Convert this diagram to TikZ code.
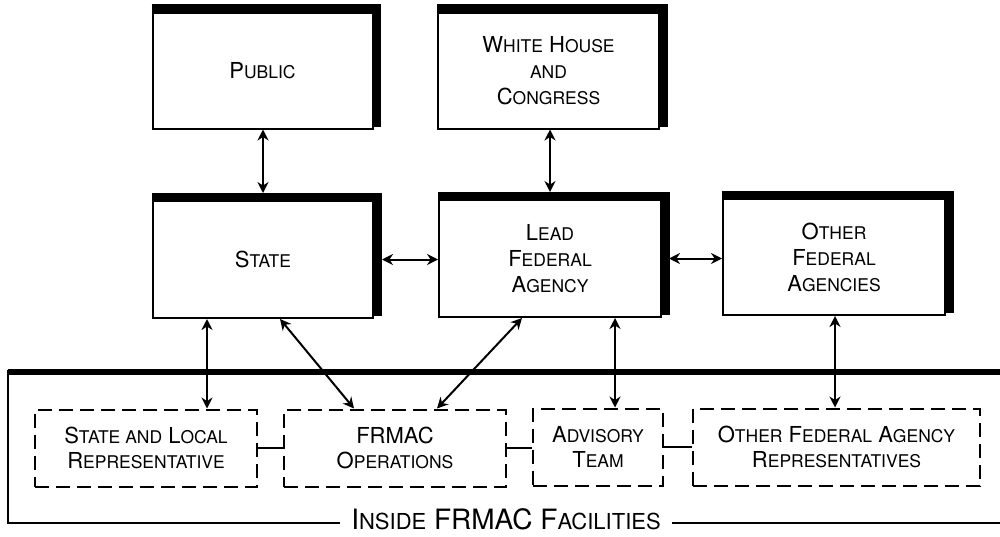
\documentclass[tikz,border=0pt]{standalone}
\usepackage{fontspec}
\setmainfont{TeX Gyre Heros}
\usepackage{xcolor}
\usetikzlibrary{arrows.meta}

\newcommand{\sm}[2][17.5]{{\fontsize{#1}{26}\selectfont #2}}

\begin{document}
\begin{tikzpicture}[x=1pt,y=-1pt,
        box/.style={draw,line width=2pt,fill=white,minimum width=220pt,minimum height=116pt,align=center,inner sep=0pt,font=\fontsize{22}{26}\selectfont},
        repbox/.style={draw,line width=2pt,dash pattern=on 14pt off 7pt,minimum height=77pt,align=center,inner sep=0pt,font=\fontsize{22}{25}\selectfont},
        thickedge/.style={line width=7.5pt},
        conn/.style={line width=2pt,{Stealth[length=11pt,width=11pt]}-{Stealth[length=11pt,width=11pt]}},
        joinline/.style={line width=2pt}]
        \useasboundingbox (0,0) rectangle (1000,536);
        % top row
        \node[box](pub) at (262.5,70.5) {P\sm{UBLIC}};
        \node[box,minimum width=221pt](whc) at (548.5,70.5) {W\sm{HITE} H\sm{OUSE}\\\sm{AND}\\C\sm{ONGRESS}};
        % middle row
        \node[box,minimum height=117pt](state) at (263,259.5) {S\sm{TATE}};
        \node[box,minimum width=222pt,minimum height=117pt](lfa) at (550,258.5) {L\sm{EAD}\\F\sm{EDERAL}\\A\sm{GENCY}};
        \node[box,minimum width=222pt](ofa) at (834,257) {O\sm{THER}\\F\sm{EDERAL}\\A\sm{GENCIES}};
        \foreach \b in {pub,whc,state,lfa,ofa}
            \draw[thickedge] ([yshift=3.75pt]\b.north west) -- ([xshift=3.75pt,yshift=3.75pt]\b.north east) -- ([xshift=3.75pt,yshift=3pt]\b.south east);
        % facilities frame
        \draw[line width=6pt] (8,372) -- (1000,372);
        \node[font=\fontsize{28}{30}\selectfont,inner xsep=11pt,inner ysep=0pt](inside) at (506,519) {I\sm[22]{NSIDE} FRMAC F\sm[22]{ACILITIES}};
        \draw[line width=2pt] (8,370) -- (8,523) -- (inside.west |- 8,523);
        \draw[line width=2pt] (inside.east |- 8,523) -- (1000,523);
        % representatives
        \node[repbox,minimum width=222pt](slr) at (146,448) {S\sm{TATE AND} L\sm{OCAL}\\R\sm{EPRESENTATIVE}};
        \node[repbox,minimum width=222pt](fops) at (395,448) {FRMAC\\O\sm{PERATIONS}};
        \node[repbox,minimum width=130pt](adv) at (598,447) {A\sm{DVISORY}\\T\sm{EAM}};
        \node[repbox,minimum width=287pt](ofar) at (836.5,447) {O\sm{THER} F\sm{EDERAL} A\sm{GENCY}\\R\sm{EPRESENTATIVES}};
        \draw[joinline] (slr.east) -- (slr.east -| fops.west);
        \draw[joinline] (fops.east) -- (fops.east -| adv.west);
        \draw[joinline] (adv.east) -- (adv.east -| ofar.west);
        % arrows
        \draw[conn,shorten >=7pt] (state.north |- pub.south) -- (state.north);
        \draw[conn,shorten >=7pt] (lfa.north |- whc.south) -- (lfa.north);
        \draw[conn,shorten <=8pt] (state.east) -- (state.east -| lfa.west);
        \draw[conn,shorten <=7pt] (lfa.east) -- (lfa.east -| ofa.west);
        \draw[conn] (state.south -| 207,0) -- (slr.north -| 207,0);
        \draw[conn] (state.south -| 280,0) -- (fops.north -| 354,0);
        \draw[conn] (lfa.south -| 522,0) -- (fops.north -| 437,0);
        \draw[conn] (lfa.south -| 615,0) -- (adv.north -| 615,0);
        \draw[conn] (ofa.south -| 835,0) -- (ofar.north -| 835,0);
\end{tikzpicture}
\end{document}
